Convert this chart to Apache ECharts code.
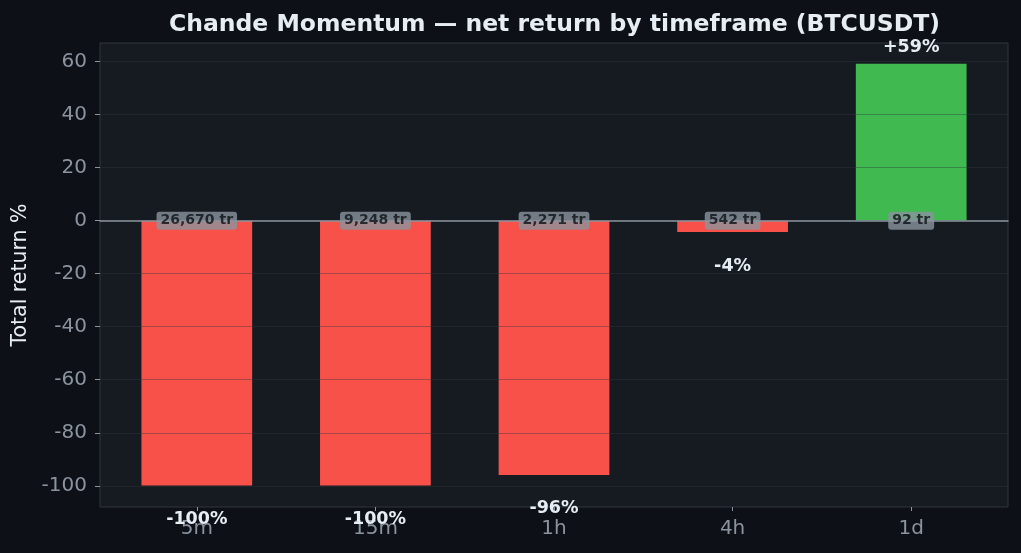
<!DOCTYPE html>
<html>
<head>
<meta charset="utf-8">
<script src="https://cdn.jsdelivr.net/npm/echarts@6/dist/echarts.min.js"></script>
<style>
  html, body { margin: 0; padding: 0; background: #0d1117; }
  #container { width: 1021px; height: 553px; }
</style>
</head>
<body>
<div id="container"></div>
<script type="text/javascript">
// data
var timeframes = ['5m', '15m', '1h', '4h', '1d'];
var returns = [-99.9, -99.9, -95.9, -4.3, 59.2];   // total return %
var trades = [26670, 9248, 2271, 542, 92];          // trade counts
var yTicks = [-100, -80, -60, -40, -20, 0, 20, 40, 60];

var yMin = -108, yMax = 67;
var red = '#f85149', green = '#3fb950';
var muted = '#8b949e', bright = '#e6edf3';
var font = 'DejaVu Sans';

var dom = document.getElementById('container');
var myChart = echarts.init(dom);

var barData = [];
for (var i = 0; i < returns.length; i++) {
    var v = returns[i];
    barData.push({
        value: v,
        itemStyle: { color: v >= 0 ? green : red },
        label: { position: v >= 0 ? 'top' : 'bottom', distance: v >= 0 ? 7 : 25 }
    });
}
var zeroData = [];
for (var k = 0; k < trades.length; k++) {
    zeroData.push(0);
}

var option = {
    backgroundColor: '#0d1117',
    textStyle: { fontFamily: font },
    title: {
        text: 'Chande Momentum — net return by timeframe (BTCUSDT)',
        left: 549.5,
        textAlign: 'center',
        top: 8,
        textStyle: { color: bright, fontSize: 23.5, fontWeight: 'bold', fontFamily: font }
    },
    grid: [
        // frame + y axis
        { left: 100, right: 13, top: 43, bottom: 46, show: true,
          backgroundColor: '#161b22', borderColor: '#30363d', borderWidth: 1 },
        // bars, slightly inset like the matplotlib margins
        { left: 107.5, right: 20.5, top: 43, bottom: 46 }
    ],
    xAxis: [
        {
            gridIndex: 0, type: 'value', min: 0, max: 1, z: 4,
            axisLine: { show: true, onZero: true, lineStyle: { color: muted, width: 1.5 } },
            axisTick: { show: false }, axisLabel: { show: false }, splitLine: { show: false }
        },
        {
            gridIndex: 1, type: 'category', data: timeframes, position: 'bottom',
            axisLine: { show: false, onZero: false },
            axisTick: { show: true, alignWithLabel: true, length: 4, lineStyle: { color: muted } },
            axisLabel: { color: muted, fontSize: 20, margin: 12, fontFamily: font },
            splitLine: { show: false }
        }
    ],
    yAxis: [
        {
            gridIndex: 0, type: 'value', min: yMin, max: yMax, z: 3,
            name: 'Total return %', nameLocation: 'middle', nameGap: 68,
            nameTextStyle: { color: bright, fontSize: 20.5, fontFamily: font },
            axisLine: { show: false },
            axisTick: { show: true, length: 5, customValues: yTicks, lineStyle: { color: muted } },
            axisLabel: { color: muted, fontSize: 20, margin: 13, customValues: yTicks, fontFamily: font },
            splitLine: { show: true, lineStyle: { color: 'rgba(48,54,61,0.4)', width: 1 } }
        },
        {
            gridIndex: 1, type: 'value', min: yMin, max: yMax, show: false,
            splitLine: { show: false }
        }
    ],
    series: [
        {
            type: 'bar', xAxisIndex: 1, yAxisIndex: 1,
            barWidth: '62%',
            data: barData,
            label: {
                show: true, color: bright, fontSize: 17.5, fontWeight: 'bold', fontFamily: font,
                formatter: function (p) {
                    var r = Math.round(p.value);
                    return (r > 0 ? '+' : '') + r + '%';
                }
            }
        },
        {
            type: 'scatter', xAxisIndex: 1, yAxisIndex: 1, z: 10,
            symbolSize: 0, silent: true,
            data: zeroData,
            label: {
                show: true, position: 'inside',
                color: '#0d1117', fontSize: 14, fontWeight: 'bold', fontFamily: font,
                backgroundColor: muted, borderRadius: 3, padding: [2, 4],
                formatter: function (p) {
                    return trades[p.dataIndex].toLocaleString('en-US') + ' tr';
                }
            }
        }
    ]
};

myChart.setOption(option);
</script>
</body>
</html>
